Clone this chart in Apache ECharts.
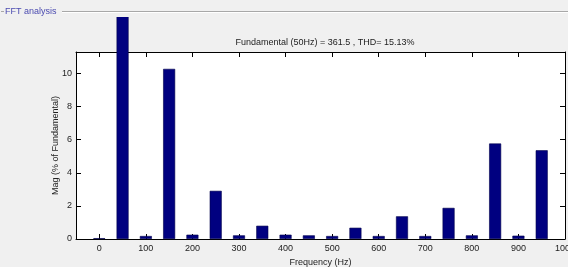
<!DOCTYPE html>
<html>
<head>
<meta charset="utf-8">
<style>
  html, body { margin: 0; padding: 0; background: #f0f0f0; }
  #chart { width: 568px; height: 267px; }
</style>
<script src="https://cdn.jsdelivr.net/npm/echarts@6/dist/echarts.min.js"></script>
</head>
<body>
<div id="chart"></div>
<script>
// harmonic spectrum
const FREQS = [0, 50, 100, 150, 200, 250, 300, 350, 400, 450, 500, 550, 600, 650, 700, 750, 800, 850, 900, 950];
const MAGS = [0.05, 100, 0.18, 10.28, 0.26, 2.91, 0.22, 0.8, 0.26, 0.22, 0.18, 0.68, 0.18, 1.37, 0.18, 1.88, 0.22, 5.77, 0.2, 5.36];
const X_TICKS = [0, 100, 200, 300, 400, 500, 600, 700, 800, 900, 1000];
const Y_TICKS = [0, 2, 4, 6, 8, 10];

const FONT = '"Liberation Sans", Arial, sans-serif';
const TEXT_COLOR = "#222";
const BAR_COLOR = "#000080";

const X_MIN = -50, X_MAX = 1000;
const Y_MIN = 0, Y_MAX = 11.3;

function baseX(extra) {
  return {
    type: "value",
    min: X_MIN,
    max: X_MAX,
    axisLine: { show: true, onZero: false, lineStyle: { color: "#000", width: 1 } },
    axisTick: { show: true, inside: true, length: 5, customValues: X_TICKS, lineStyle: { color: "#000" } },
    splitLine: { show: false },
    ...extra,
  };
}

function baseY(extra) {
  return {
    type: "value",
    min: Y_MIN,
    max: Y_MAX,
    axisLine: { show: true, onZero: false, lineStyle: { color: "#000", width: 1 } },
    axisTick: { show: true, inside: true, length: 5, customValues: Y_TICKS, lineStyle: { color: "#000" } },
    splitLine: { show: false },
    ...extra,
  };
}

function buildOption() {
  return {
    animation: false,
    backgroundColor: "#f0f0f0",
    textStyle: { fontFamily: FONT },
    grid: {
      left: 76, right: 3, top: 52, bottom: 28,
      outerBoundsMode: "none",
      containLabel: false,
      show: true, backgroundColor: "#fff", borderWidth: 0,
    },
    title: {
      text: "Fundamental (50Hz) = 361.5 , THD= 15.13%",
      left: 320, top: 33, textAlign: "center",
      textStyle: { fontFamily: FONT, fontSize: 9, fontWeight: "normal", color: TEXT_COLOR },
    },
    xAxis: [
      baseX({
        position: "bottom",
        name: "Frequency (Hz)",
        nameLocation: "middle",
        nameGap: 19,
        nameMoveOverlap: false,
        nameTextStyle: { fontFamily: FONT, fontSize: 9, color: TEXT_COLOR },
        axisLabel: {
          customValues: X_TICKS, fontFamily: FONT, fontSize: 9, color: TEXT_COLOR, margin: 5,
          formatter: (v) => String(v),
        },
      }),
      baseX({ position: "top", axisLabel: { show: false } }),
    ],
    yAxis: [
      baseY({
        position: "left",
        name: "Mag (% of Fundamental)",
        nameLocation: "middle",
        nameGap: 16,
        nameMoveOverlap: false,
        nameTextStyle: { fontFamily: FONT, fontSize: 9, color: TEXT_COLOR },
        axisLabel: {
          customValues: Y_TICKS, fontFamily: FONT, fontSize: 9, color: TEXT_COLOR, margin: 4,
          formatter: (v) => String(v),
        },
      }),
      baseY({ position: "right", axisLabel: { show: false } }),
    ],
    series: [{
      type: "bar",
      clip: false,
      barWidth: 12,
      itemStyle: { color: BAR_COLOR, borderColor: "#00004a", borderWidth: 0.6 },
      data: FREQS.map((f, i) => [f, MAGS[i]]),
      z: 2,
    }],
    graphic: [
      // panel header hides the top of the 100 % bar
      { type: "rect", left: 0, top: 0, z: 100, shape: { width: 568, height: 17 }, style: { fill: "#f0f0f0" } },
      { type: "line", z: 101, shape: { x1: 62, y1: 11.5, x2: 568, y2: 11.5 }, style: { stroke: "#a8a8a8", lineWidth: 1 } },
      { type: "line", z: 101, shape: { x1: 62, y1: 12.5, x2: 568, y2: 12.5 }, style: { stroke: "#ffffff", lineWidth: 1 } },
      { type: "line", z: 101, shape: { x1: 1, y1: 11.5, x2: 4, y2: 11.5 }, style: { stroke: "#a8a8a8", lineWidth: 1 } },
      {
        type: "text", left: 5, top: 7, z: 101,
        style: { text: "FFT analysis", font: `9px ${FONT}`, fill: "#4b4bb0" },
      },
    ],
  };
}

const chart = echarts.init(document.getElementById("chart"), null, { renderer: "canvas" });
chart.setOption(buildOption());
</script>
</body>
</html>
